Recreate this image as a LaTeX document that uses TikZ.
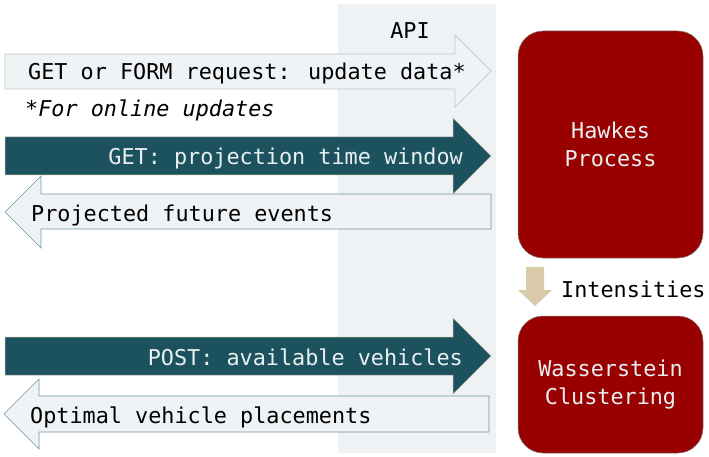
\documentclass[tikz,border=0pt]{standalone}
\usepackage{fontspec}
\newfontfamily\apimono{DejaVu Sans Mono}
\definecolor{apibg}{HTML}{EEF2F5}
\definecolor{lightfill}{HTML}{F0F3F6}
\definecolor{greyline}{HTML}{C4C4C4}
\definecolor{tealline}{HTML}{6F949E}
\definecolor{tealdark}{HTML}{1B525E}
\definecolor{tanline}{HTML}{B9AF93}
\definecolor{procred}{HTML}{990000}
\definecolor{tan}{HTML}{D9CAA9}
\definecolor{paletext}{HTML}{EAEFF2}

\tikzset{
  lightarrow/.style={fill=lightfill, draw=tealline, line width=0.7pt},
  darkarrow/.style={fill=tealdark, draw=tanline, line width=0.5pt},
  lbl/.style={font=\apimono\fontsize{21.8}{28}\selectfont, inner sep=0pt},
  procbox/.style={lbl, fill=procred, draw=gray, line width=0.5pt,
    rounded corners=25pt, align=center, text=paletext}
}

\begin{document}
\begin{tikzpicture}[x=1pt,y=-1pt]
    \useasboundingbox (0,0) rectangle (709,457);

    % API column
    \fill[apibg] (338,4) rectangle (496,453);
    \node[lbl, anchor=base] (api) at (410,39) {API};

    % requests and responses
    \draw[lightarrow, draw=greyline] (5,54) -- (455,54) -- (455,35) -- (491,71)
        -- (455,107) -- (455,89) -- (5,89) -- cycle;
    \node[lbl, anchor=base west] (update) at (28,80) {GET or FORM request: update data*};
    \node[lbl, anchor=base west, font=\apimono\itshape\fontsize{21.8}{28}\selectfont]
        (note) at (25,117) {*For online updates};

    \draw[lightarrow] (491,194) -- (41,194) -- (41,176) -- (5,212)
        -- (41,248) -- (41,229) -- (491,229) -- cycle;
    \node[lbl, anchor=base west] (projected) at (31,221) {Projected future events};

    \draw[darkarrow] (5,137) -- (453,137) -- (453,118) -- (491,156)
        -- (453,194) -- (453,175) -- (5,175) -- cycle;
    \node[lbl, anchor=base east, text=paletext] (window) at (463,165) {GET: projection time window};

    \draw[lightarrow] (489,396) -- (39,396) -- (39,379) -- (4,414)
        -- (39,449) -- (39,432) -- (489,432) -- cycle;
    \node[lbl, anchor=base west] (optimal) at (30,423) {Optimal vehicle placements};

    \draw[darkarrow] (5,337) -- (453,337) -- (453,318) -- (491,356)
        -- (453,394) -- (453,375) -- (5,375) -- cycle;
    \node[lbl, anchor=base east, text=paletext] (vehicles) at (463,365) {POST: available vehicles};

    % models
    \node[procbox, minimum width=185pt, minimum height=227pt] (hawkes)
        at (610.5,144.5) {Hawkes\\Process};
    \node[procbox, minimum width=185pt, minimum height=137pt] (wasserstein)
        at (610.5,384.5) {Wasserstein\\Clustering};

    \fill[tan] (526,267) -- (544,267) -- (544,290) -- (552,290) -- (535,306)
        -- (518,290) -- (526,290) -- cycle;
    \node[lbl, anchor=base west] (intensities) at (561,297) {Intensities};
\end{tikzpicture}
\end{document}
